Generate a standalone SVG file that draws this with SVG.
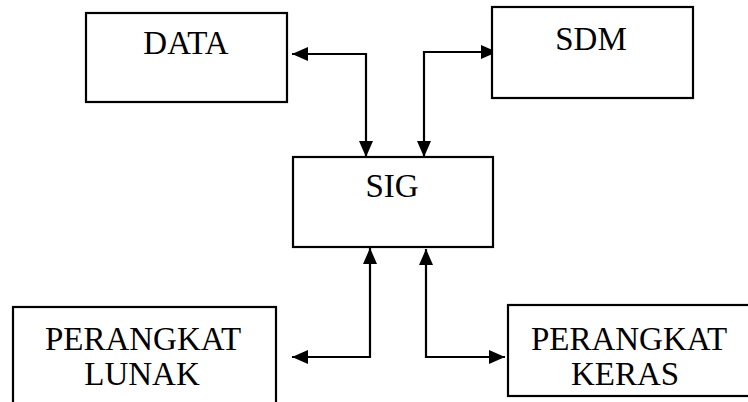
<svg xmlns="http://www.w3.org/2000/svg" width="748" height="402" viewBox="0 0 748 402">
  <defs>
    <marker id="arrow" markerUnits="userSpaceOnUse" markerWidth="18" markerHeight="16" refX="16" refY="7" orient="auto-start-reverse">
      <path d="M0,0 L16,7 L0,14 z" fill="#000"/>
    </marker>
    <style>
      .box { fill: #fff; stroke: #000; stroke-width: 2.2; }
      .label { font-family: "Liberation Serif", "Times New Roman", serif; font-size: 33px; fill: #000; text-anchor: middle; }
      .link { fill: none; stroke: #000; stroke-width: 2.2; marker-start: url(#arrow); marker-end: url(#arrow); }
    </style>
  </defs>
  <rect width="748" height="402" fill="#fff"/>

  <g id="connectors">
    <!-- DATA <-> SIG -->
    <path class="link" d="M292,54 H366 V157"/>
    <!-- SDM <-> SIG -->
    <path class="link" d="M497,52 H424 V157"/>
    <!-- SIG <-> PERANGKAT LUNAK -->
    <path class="link" d="M370,248 V357 H292"/>
    <!-- SIG <-> PERANGKAT KERAS -->
    <path class="link" d="M426,249 V357 H505"/>
  </g>

  <g id="data">
    <rect class="box" x="86" y="13" width="201" height="89"/>
    <text class="label" x="186" y="54">DATA</text>
  </g>

  <g id="sdm">
    <rect class="box" x="492" y="7" width="201" height="91"/>
    <text class="label" x="591" y="50">SDM</text>
  </g>

  <g id="sig">
    <rect class="box" x="293" y="157" width="200" height="90"/>
    <text class="label" x="392" y="197">SIG</text>
  </g>

  <g id="perangkat-lunak">
    <rect class="box" x="13" y="307" width="263" height="110"/>
    <text class="label" x="143" y="350">PERANGKAT</text>
    <text class="label" x="142" y="385">LUNAK</text>
  </g>

  <g id="perangkat-keras">
    <rect class="box" x="508" y="305" width="260" height="91"/>
    <text class="label" x="629" y="350">PERANGKAT</text>
    <text class="label" x="625" y="385">KERAS</text>
  </g>
</svg>
